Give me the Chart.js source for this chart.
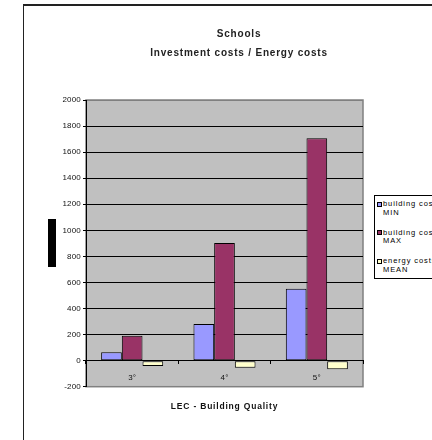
<!DOCTYPE html>
<html>
<head>
<meta charset="utf-8">
<script src="https://cdn.jsdelivr.net/npm/chart.js@4"></script>
<style>
  html, body { margin: 0; padding: 0; width: 432px; height: 440px; overflow: hidden; background: #fff; }
  #frame { position: absolute; left: 23px; top: 4px; width: 600px; height: 600px; border-top: 2px solid #222; border-left: 1px solid #222; }
  #axisBlock { position: absolute; left: 48px; top: 219px; width: 8px; height: 48px; background: #000; }
  #wrap { position: absolute; left: 0; top: 0; width: 478px; height: 440px; }
  #legend { position: absolute; left: 374px; top: 195px; width: 100px; height: 84px; border: 1px solid #000; background: #fff;
            font-family: "Liberation Sans", Arial, sans-serif; font-size: 7.5px; line-height: 8.5px; color: #000; padding-top: 4px; box-sizing: border-box; }
  #legend .item { position: relative; padding-left: 8px; height: 17px; margin-bottom: 11.5px; white-space: nowrap; letter-spacing: 0.9px; }
  #legend .sw { position: absolute; left: 2px; top: 1.5px; width: 3px; height: 3px; border: 1px solid #000; }
</style>
</head>
<body>
<div id="frame"></div>
<div id="axisBlock"></div>
<div id="wrap"><canvas id="mycanvas" width="478" height="440"></canvas></div>
<div id="legend"></div>
<script>
var categories = ['3°', '4°', '5°'];
var seriesNames = [['building costs', 'MIN'], ['building costs', 'MAX'], ['energy costs', 'MEAN']];
var costsMin = [64, 281, 552];
var costsMax = [191, 902, 1706];
var energyMean = [-41, -54, -67];
var yTicksMin = -200, yTicksMax = 2000, yStep = 200;

var seriesColors = ['#9999ff', '#993366', '#ffffcc'];
var seriesValues = [costsMin, costsMax, energyMean];

Chart.defaults.font.family = '"Liberation Sans", Arial, sans-serif';

var plotBackground = {
	id: 'plotBackground',
	beforeDraw: function(chart) {
		var a = chart.chartArea, ctx = chart.ctx;
		ctx.save();
		ctx.fillStyle = '#c0c0c0';
		ctx.fillRect(a.left, a.top, a.right - a.left, a.bottom - a.top);
		ctx.strokeStyle = '#808080';
		ctx.lineWidth = 1.5;
		ctx.strokeRect(a.left, a.top, a.right - a.left, a.bottom - a.top);
		ctx.restore();
		// titles are spaced out in the original
		ctx.letterSpacing = '0.8px';
	},
	afterDatasetsDraw: function(chart) {
		chart.ctx.letterSpacing = '0.2px';
	}
};

var datasets = [];
for (var i = 0; i < seriesValues.length; i++) {
	datasets.push({
		label: seriesNames[i].join(' '),
		data: seriesValues[i],
		backgroundColor: seriesColors[i],
		borderColor: '#000',
		borderWidth: 1,
		borderSkipped: false
	});
}

var chart = new Chart(document.getElementById('mycanvas'), {
	type: 'bar',
	data: { labels: categories, datasets: datasets },
	options: {
		responsive: false,
		animation: false,
		devicePixelRatio: 1,
		layout: { padding: { left: 0, right: 0, top: 0, bottom: 53.3 } },
		datasets: { bar: { categoryPercentage: 0.672, barPercentage: 1 } },
		plugins: {
			legend: { display: false },
			tooltip: { enabled: false },
			title: {
				display: true,
				text: ['Schools', 'Investment costs / Energy costs'],
				color: '#222',
				font: { size: 10, weight: 'bold', lineHeight: 1.9 },
				padding: { top: 24.5, bottom: 37.5 }
			}
		},
		scales: {
			x: {
				position: { y: 0 },
				grid: { drawOnChartArea: false, drawTicks: true, tickLength: 3, offset: true, color: '#000', tickColor: '#000' },
				border: { display: true, color: '#000', width: 1 },
				ticks: { padding: 9, color: '#111', font: { size: 8 }, z: 1 },
				title: {
					display: true,
					text: 'LEC - Building Quality',
					color: '#111',
					font: { size: 8.5, weight: 'bold' },
					padding: { top: 10.5, bottom: 0 }
				}
			},
			y: {
				min: yTicksMin,
				max: yTicksMax,
				ticks: {
					stepSize: yStep, padding: 2, color: '#111', font: { size: 8 }, z: 1,
					callback: function(v) { return String(v); }
				},
				grid: {
					tickLength: 3,
					tickColor: '#000',
					color: function(c) {
						if (c.tick && (c.tick.value === yTicksMin || c.tick.value === yTicksMax)) return '#808080';
						return '#000';
					}
				},
				border: { color: '#000' },
				afterFit: function(s) { s.width = 86; }
			},
			yRight: {
				position: 'right',
				display: true,
				ticks: { display: false },
				grid: { display: false, drawTicks: false },
				border: { display: false },
				afterFit: function(s) { s.width = 115; }
			}
		}
	},
	plugins: [plotBackground]
});

// legend as a boxed list on the right
var legendBox = document.getElementById('legend');
for (var j = 0; j < seriesNames.length; j++) {
	var item = document.createElement('div');
	item.className = 'item';
	var sw = document.createElement('span');
	sw.className = 'sw';
	sw.style.background = seriesColors[j];
	item.appendChild(sw);
	item.appendChild(document.createTextNode(seriesNames[j][0]));
	item.appendChild(document.createElement('br'));
	item.appendChild(document.createTextNode(seriesNames[j][1]));
	legendBox.appendChild(item);
}
</script>
</body>
</html>
